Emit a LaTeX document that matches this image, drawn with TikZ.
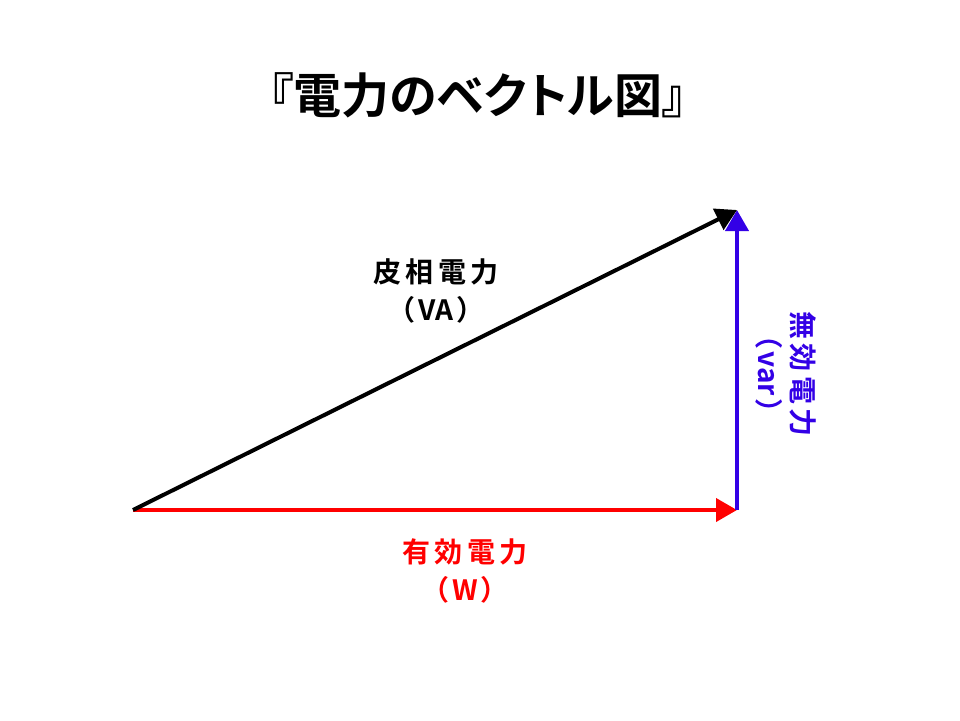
\documentclass[tikz,border=0pt]{standalone}
\usepackage{fontspec}
\newfontfamily\cjkp{Noto Sans CJK JP}[BoldFont={Noto Sans CJK JP Bold},RawFeature=+palt]
\newfontfamily\cjksp{Noto Sans CJK JP}[BoldFont={Noto Sans CJK JP Bold},LetterSpace=15]
\usetikzlibrary{arrows.meta}
\definecolor{vred}{RGB}{255,0,0}
\definecolor{vblue}{RGB}{51,0,230}
\newcommand\unitline[1]{{\cjkp\bfseries\fontsize{28}{38}\selectfont （\kern4pt #1\kern4pt ）}}
\tikzset{
  vec/.style={line width=4pt,-{Triangle[length=21pt,width=23pt]}},
  lbl/.style={font=\cjksp\bfseries\fontsize{28}{38}\selectfont,align=center,inner sep=0pt},
}
\begin{document}
\begin{tikzpicture}[x=1pt,y=-1pt]
\useasboundingbox (0,0) rectangle (960,720);
\node[font=\cjkp\bfseries\fontsize{48}{56}\selectfont,inner sep=0pt] (title) at (478,95) {『電力のベクトル図』};
\coordinate (O) at (133,510);
\coordinate (P) at (737,510);
\coordinate (Q) at (737,210);
\draw[vec,vred] (O) -- (P);
\draw[vec,vblue] (P) -- (Q);
\draw[vec,black] (O) -- (Q);
\node[lbl] (va) at (436,291) {皮相電力\\\unitline{VA}};
\node[lbl,vred] (w) at (465,571) {有効電力\\\unitline{W}};
\node[lbl,vblue,rotate=-90,font=\cjksp\bfseries\fontsize{28}{34}\selectfont] (var) at (786,374) {無効電力\\\unitline{var}};
\end{tikzpicture}
\end{document}
